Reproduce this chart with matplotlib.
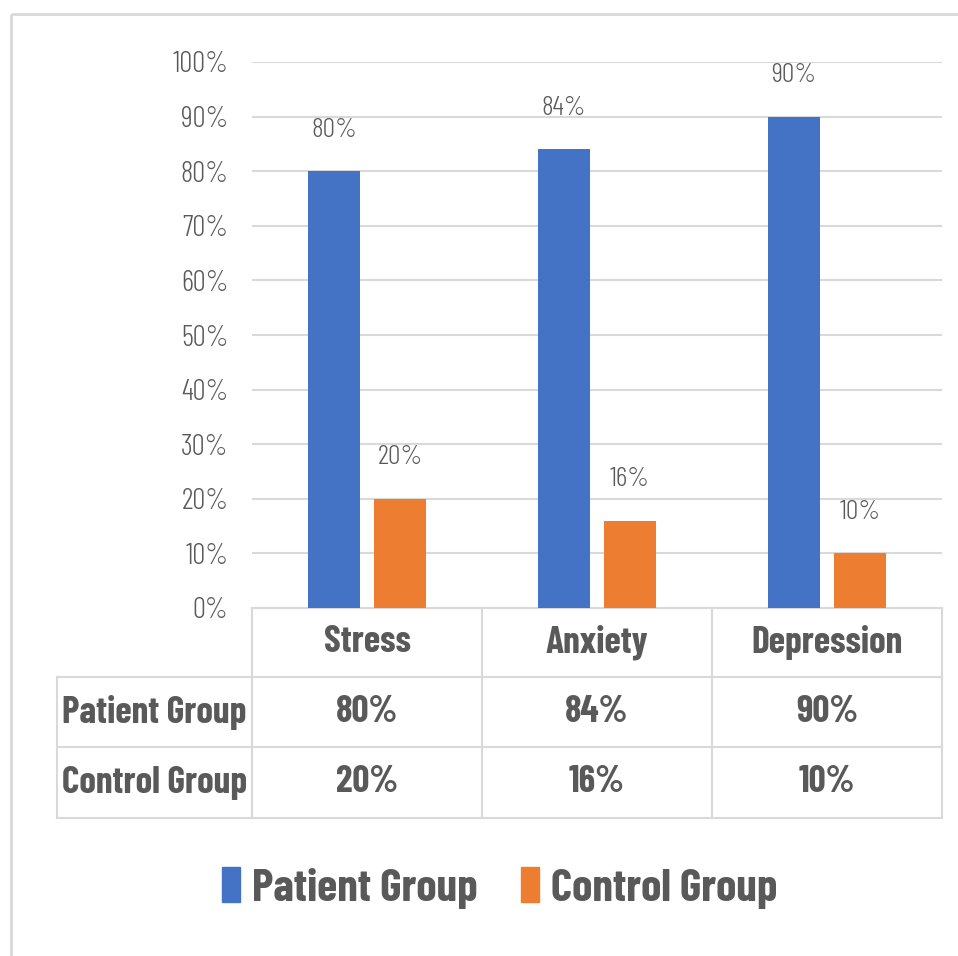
import matplotlib
matplotlib.use("Agg")
import matplotlib.pyplot as plt
from matplotlib.patches import Patch, Rectangle
from matplotlib.lines import Line2D
from matplotlib.transforms import blended_transform_factory
from matplotlib.ticker import PercentFormatter

# data
categories = ["Stress", "Anxiety", "Depression"]
series_names = ["Patient Group", "Control Group"]
patient = [80, 84, 90]
control = [20, 16, 10]
colors = ["#4472C4", "#ED7D31"]

FONT = ["Barlow Condensed", "DejaVu Sans"]
plt.rcParams["font.family"] = FONT
TXT = "#595959"
GRID = "#D9D9D9"

W, H = 958, 956
fig = plt.figure(figsize=(W / 100, H / 100), dpi=100)

def px(x0, y0, x1, y1):
    # pixel box (top-left origin) -> figure fraction rect
    return [x0 / W, 1 - y1 / H, (x1 - x0) / W, (y1 - y0) / H]

# overlay for border and table lines
over = fig.add_axes([0, 0, 1, 1])
over.set_xlim(0, W)
over.set_ylim(H, 0)
over.axis("off")
over.add_patch(Rectangle((11, 14), W, H, fill=False, edgecolor=GRID, lw=2))

ax = fig.add_axes(px(252, 62, 942, 608))
x = range(len(categories))
w = 0.226
b1 = ax.bar([i - 0.143 for i in x], patient, w, color=colors[0], zorder=3)
b2 = ax.bar([i + 0.143 for i in x], control, w, color=colors[1], zorder=3)
for bars, vals in [(b1, patient), (b2, control)]:
    for bar, v in zip(bars, vals):
        ax.annotate(f"{v}%", (bar.get_x() + bar.get_width() / 2, v),
                    xytext=(0, 30), textcoords="offset points",
                    ha="center", va="center", fontsize=20, fontweight=300,
                    color=TXT)

ax.set_xlim(-0.5, len(categories) - 0.5)
ax.set_ylim(0, 100)
ax.set_yticks(range(0, 101, 10))
ax.yaxis.set_major_formatter(PercentFormatter(decimals=0))
ax.tick_params(axis="y", length=0, pad=17, labelsize=21, labelcolor=TXT)
for t in ax.get_yticklabels():
    t.set_fontweight(300)
ax.set_xticks([])
ax.grid(axis="y", color=GRID, lw=1.5, zorder=0)
for s in ax.spines.values():
    s.set_visible(False)

# data table under the chart
tr = blended_transform_factory(ax.transData, over.transData)
rows_y = [608, 677, 747, 818]
left_x = 57
col_x = [-0.5 + i for i in range(len(categories) + 1)]
lk = dict(color=GRID, lw=1.5, transform=tr, clip_on=False)
over.add_line(Line2D([col_x[0], col_x[-1]], [rows_y[0], rows_y[0]], **lk))
for cx in col_x:
    over.add_line(Line2D([cx, cx], [rows_y[0], rows_y[-1]], **lk))
for yy in rows_y[1:]:
    over.plot([left_x, 942], [yy, yy], color=GRID, lw=1.5)
over.plot([left_x, left_x], [rows_y[1], rows_y[-1]], color=GRID, lw=1.5)

tk = dict(fontsize=27, fontweight="bold", color=TXT, va="center")
for i, c in enumerate(categories):
    over.text(i, (rows_y[0] + rows_y[1]) / 2, c, ha="center", transform=tr, **tk)
for r, (name, vals) in enumerate(zip(series_names, [patient, control])):
    yc = (rows_y[r + 1] + rows_y[r + 2]) / 2
    over.text(left_x + 5, yc, name, ha="left", **tk)
    for i, v in enumerate(vals):
        over.text(i, yc, f"{v}%", ha="center", transform=tr, **tk)

handles = [Patch(color=c, label=n) for c, n in zip(colors, series_names)]
leg = fig.legend(handles=handles, loc="center", ncol=2,
                 bbox_to_anchor=(500 / W, 1 - 888 / H), frameon=False,
                 prop={"size": 33, "weight": "bold", "family": FONT},
                 handlelength=0.38, handleheight=0.78,
                 handletextpad=0.27, columnspacing=0.95)
for t in leg.get_texts():
    t.set_color(TXT)

fig.savefig("out.png", dpi=100)
